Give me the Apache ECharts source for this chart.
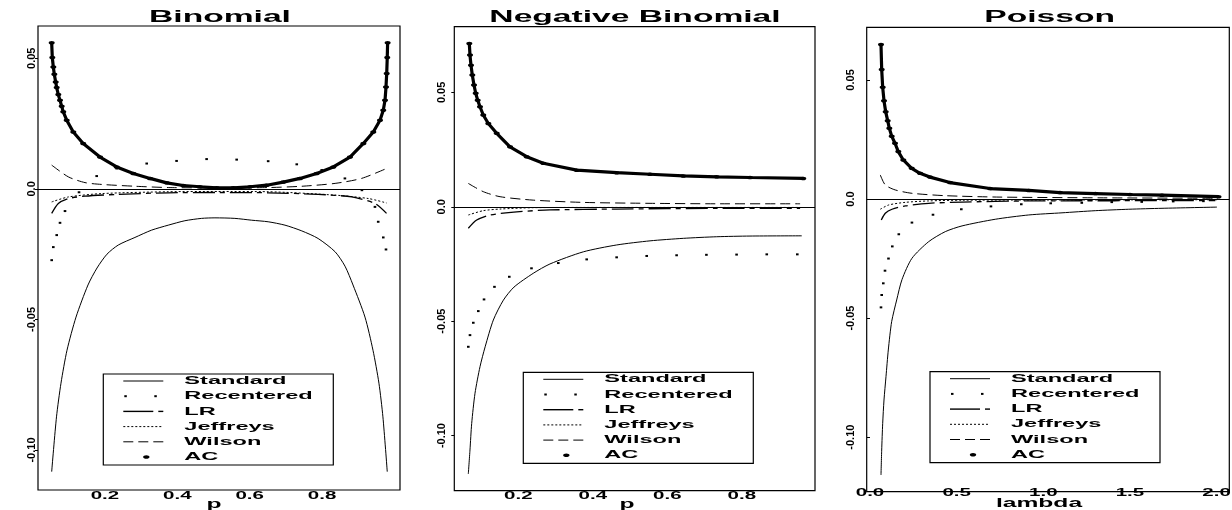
<!DOCTYPE html>
<html><head><meta charset="utf-8">
<script src="https://cdn.jsdelivr.net/npm/echarts@6/dist/echarts.min.js"></script>
<style>html,body{margin:0;padding:0;background:#fff}#c{width:1232px;height:510px}</style>
</head><body><div id="c"></div>
<script>
// ---------- DATA ----------
const titles = ['Binomial', 'Negative Binomial', 'Poisson'];
const xNames = ['p', 'p', 'lambda'];
const legendNames = ['Standard', 'Recentered', 'LR', 'Jeffreys', 'Wilson', 'AC'];
const yTicks = [-0.10, -0.05, 0, 0.05];
const binomXTicks = [0.2, 0.4, 0.6, 0.8];
const negbinXTicks = [0.2, 0.4, 0.6, 0.8];
const poisXTicks = [0.0, 0.5, 1.0, 1.5, 2.0];

// Binomial
const binomStandard = [[0.053,-0.1083],[0.0663,-0.0873],[0.0787,-0.0744],[0.0953,-0.0618],[0.1202,-0.0491],[0.1533,-0.0368],[0.1782,-0.0303],[0.2058,-0.0250],[0.237,-0.0215],[0.283,-0.0186],[0.329,-0.0158],[0.375,-0.0139],[0.421,-0.0122],[0.467,-0.0113],[0.504,-0.0111],[0.559,-0.0113],[0.6055,-0.0120],[0.651,-0.0126],[0.6975,-0.0139],[0.744,-0.0161],[0.789,-0.0190],[0.836,-0.0241],[0.8633,-0.0296],[0.8854,-0.0368],[0.9185,-0.0491],[0.9406,-0.0618],[0.957,-0.0744],[0.968,-0.0873],[0.980,-0.1083]];
const binomRecentered = [[0.053,-0.0273],[0.0575,-0.0223],[0.0669,-0.0177],[0.076,-0.0130],[0.0898,-0.0085],[0.1285,-0.0013],[0.1773,0.0049],[0.2326,0.0078],[0.3155,0.0097],[0.398,0.0107],[0.481,0.0114],[0.564,0.0112],[0.651,0.0106],[0.730,0.0094],[0.799,0.0072],[0.863,0.0040],[0.910,-0.0005],[0.946,-0.0069],[0.955,-0.0126],[0.969,-0.0186],[0.9765,-0.0232]];
const binomLR = [[0.053,-0.0094],[0.0713,-0.0056],[0.0989,-0.0037],[0.145,-0.0028],[0.237,-0.0021],[0.375,-0.0015],[0.513,-0.0014],[0.651,-0.0015],[0.789,-0.0021],[0.882,-0.0031],[0.946,-0.0056],[0.978,-0.0094]];
const binomJeffreys = [[0.053,-0.0050],[0.0989,-0.0031],[0.191,-0.0018],[0.375,-0.0011],[0.513,-0.0010],[0.651,-0.0011],[0.836,-0.0024],[0.928,-0.0037],[0.978,-0.0054]];
const binomWilson = [[0.053,0.0091],[0.0989,0.0046],[0.145,0.0024],[0.191,0.0017],[0.283,0.0010],[0.375,0.0005],[0.467,0.0004],[0.559,0.0004],[0.651,0.0005],[0.744,0.0010],[0.836,0.0021],[0.909,0.0040],[0.978,0.0078]];
const binomAC = [[0.053,0.0559],[0.0547,0.0503],[0.0575,0.0467],[0.0602,0.0439],[0.064,0.0409],[0.0668,0.0388],[0.0713,0.0361],[0.076,0.0339],[0.0807,0.0316],[0.085,0.0295],[0.0945,0.0263],[0.1127,0.0218],[0.140,0.0174],[0.1865,0.0122],[0.2326,0.0084],[0.2785,0.0059],[0.3246,0.0040],[0.3707,0.0023],[0.4166,0.0013],[0.4627,0.0008],[0.5088,0.0004],[0.5547,0.0004],[0.601,0.0008],[0.647,0.0014],[0.6928,0.0026],[0.739,0.0040],[0.785,0.0059],[0.831,0.0084],[0.877,0.0122],[0.914,0.0174],[0.9414,0.0218],[0.960,0.0263],[0.969,0.0301],[0.9738,0.0339],[0.9765,0.0390],[0.9785,0.0442],[0.980,0.0503],[0.981,0.0559]];

// Negative Binomial
const negbinStandard = [[0.0658,-0.1168],[0.0703,-0.1063],[0.0749,-0.0947],[0.0838,-0.0815],[0.0972,-0.0699],[0.111,-0.0612],[0.133,-0.0495],[0.160,-0.0408],[0.1885,-0.0351],[0.240,-0.0291],[0.285,-0.0250],[0.3745,-0.0197],[0.464,-0.0167],[0.5536,-0.0149],[0.643,-0.0138],[0.7326,-0.0131],[0.822,-0.0128],[0.961,-0.0127]];
const negbinRecentered = [[0.0658,-0.0612],[0.0703,-0.0561],[0.0792,-0.0507],[0.0926,-0.0456],[0.108,-0.0405],[0.136,-0.0350],[0.1758,-0.0306],[0.2354,-0.0269],[0.3074,-0.0246],[0.3836,-0.0230],[0.464,-0.0221],[0.5447,-0.0215],[0.625,-0.0212],[0.705,-0.0210],[0.786,-0.0209],[0.867,-0.0208],[0.949,-0.0208]];
const negbinLR = [[0.0658,-0.0094],[0.0883,-0.0058],[0.124,-0.0036],[0.1957,-0.0022],[0.285,-0.0014],[0.464,-0.0010],[0.7326,-0.0007],[0.9565,-0.0007]];
const negbinJeffreys = [[0.0658,-0.0036],[0.106,-0.0017],[0.151,-0.0010],[0.240,-0.0004],[0.3745,-0.0003],[0.9565,-0.0003]];
const negbinWilson = [[0.0658,0.0102],[0.106,0.0066],[0.151,0.0044],[0.240,0.0029],[0.3745,0.0019],[0.5536,0.0015],[0.7326,0.0013],[0.9565,0.0013]];
const negbinAC = [[0.0685,0.0714],[0.0703,0.0663],[0.073,0.0619],[0.0765,0.0576],[0.0811,0.0532],[0.0856,0.0496],[0.091,0.0466],[0.0972,0.0437],[0.106,0.0401],[0.1195,0.0364],[0.142,0.0321],[0.1777,0.0262],[0.2226,0.0219],[0.267,0.0190],[0.357,0.0160],[0.464,0.0149],[0.5536,0.0142],[0.643,0.0135],[0.7326,0.0131],[0.822,0.0128],[0.965,0.0124]];

// Poisson
const poisStandard = [[0.0635,-0.1159],[0.0675,-0.1054],[0.0733,-0.0942],[0.0808,-0.0844],[0.0923,-0.0746],[0.1056,-0.0634],[0.125,-0.0515],[0.154,-0.0424],[0.1847,-0.0338],[0.242,-0.0249],[0.3387,-0.0179],[0.4345,-0.0137],[0.531,-0.0113],[0.723,-0.0085],[0.916,-0.0067],[1.108,-0.0058],[1.300,-0.0049],[1.493,-0.0043],[1.685,-0.0039],[2.002,-0.0034]];
const poisRecentered = [[0.0635,-0.0455],[0.0675,-0.0403],[0.0767,-0.0354],[0.0866,-0.0301],[0.1067,-0.0250],[0.1287,-0.0199],[0.1662,-0.0148],[0.242,-0.0099],[0.3635,-0.0066],[0.527,-0.0043],[0.698,-0.0031],[0.873,-0.0022],[1.0427,-0.0018],[1.222,-0.0016],[1.395,-0.0013],[1.568,-0.0012],[1.7496,-0.0010],[1.924,-0.0009]];
const poisLR = [[0.0652,-0.0088],[0.0883,-0.0060],[0.127,-0.0043],[0.2037,-0.0029],[0.3387,-0.0018],[0.531,-0.0013],[0.916,-0.0008],[1.9925,-0.0007]];
const poisJeffreys = [[0.0594,-0.0043],[0.108,-0.0025],[0.2037,-0.0014],[0.3387,-0.0008],[0.531,-0.0005],[2.008,-0.0003]];
const poisWilson = [[0.0594,0.0101],[0.0883,0.0059],[0.146,0.0038],[0.242,0.0024],[0.4345,0.0014],[0.750,0.0008],[1.327,0.0005],[2.008,0.0003]];
const poisAC = [[0.0635,0.0649],[0.0675,0.0544],[0.0733,0.0469],[0.0808,0.0413],[0.0906,0.0366],[0.1021,0.0329],[0.1114,0.0297],[0.1252,0.0264],[0.1443,0.0234],[0.1633,0.0199],[0.1921,0.0164],[0.2406,0.0129],[0.2885,0.0108],[0.346,0.0092],[0.4616,0.0069],[0.6924,0.0044],[0.916,0.0036],[1.0963,0.0027],[1.300,0.0023],[1.500,0.0019],[1.685,0.0016],[2.011,0.0010]];

// ---------- LAYOUT ----------
const FONT = '"Liberation Sans", Arial, sans-serif';
const STRETCH = 2.05;
const panels = [
  {grid:{left:38, top:26, width:362, height:464}, x:[0.0152,1.0152], y:[-0.1153,0.06236],
   ticks:binomXTicks, digits:1, tickOff:6.5, yMargin:1, titleX:220, nameX:214, nameY:505, legend:[103.3,374],
   series:[binomStandard, binomRecentered, binomLR, binomJeffreys, binomWilson, binomAC]},
  {grid:{left:454.3, top:26.7, width:360.7, height:464}, x:[0.0282,0.9965], y:[-0.1241,0.0787],
   ticks:negbinXTicks, digits:1, tickOff:6, yMargin:7, titleX:635, nameX:627, nameY:505, legend:[523.3,372.3],
   series:[negbinStandard, negbinRecentered, negbinLR, negbinJeffreys, negbinWilson, negbinAC]},
  {grid:{left:866.7, top:27.3, width:362.6, height:464.4}, x:[-0.019,2.0733], y:[-0.1229,0.0721],
   ticks:poisXTicks, digits:1, tickOff:2, yMargin:10, titleX:1049.7, nameX:1039, nameY:503.5, legend:[930,371.7],
   series:[poisStandard, poisRecentered, poisLR, poisJeffreys, poisWilson, poisAC]}
];

const styles = [
  {lineStyle:{color:'#000', width:1, type:'solid'}, symbol:'none', smooth:0.25},
  {lineStyle:{width:0, opacity:0}, symbol:'rect', symbolSize:[2.6,2], itemStyle:{color:'#000'}},
  {lineStyle:{color:'#000', width:1.3, type:[22,5,5,5]}, symbol:'none', smooth:0.25},
  {lineStyle:{color:'#000', width:1, type:[2,2]}, symbol:'none', smooth:0.25},
  {lineStyle:{color:'#000', width:1, type:[10,5]}, symbol:'none', smooth:0.25},
  {lineStyle:{color:'#000', width:3.2, type:'solid'}, symbol:'circle', symbolSize:[6,3.5], itemStyle:{color:'#000'}}
];

const grids = [], xAxes = [], yAxes = [], series = [], graphics = [];
panels.forEach((P, i) => {
  grids.push(Object.assign({show:true, borderColor:'#000', borderWidth:1.2, backgroundColor:'transparent'}, P.grid));
  xAxes.push({type:'value', gridIndex:i, min:P.x[0], max:P.x[1], axisLine:{show:false}, axisTick:{show:false},
    axisLabel:{show:false}, splitLine:{show:false}});
  yAxes.push({type:'value', gridIndex:i, min:P.y[0], max:P.y[1], axisLine:{show:false},
    axisTick:{show:true, length:3, customValues:yTicks, lineStyle:{color:'#000'}},
    axisLabel:{show:true, rotate:90, customValues:yTicks, margin:P.yMargin, color:'#000', fontSize:11, fontWeight:'bold', fontFamily:FONT,
      formatter:v => (Math.abs(v) < 1e-9 ? '0.0' : v.toFixed(2))},
    splitLine:{show:false}});
  P.series.forEach((d, k) => {
    const s = Object.assign({type:'line', name:legendNames[k], xAxisIndex:i, yAxisIndex:i, data:d, silent:true,
      showSymbol: styles[k].symbol !== 'none', clip:true, z: 2 + k}, styles[k]);
    if (k === 0) {
      s.markLine = {silent:true, symbol:['none','none'], label:{show:false}, animation:false,
        lineStyle:{color:'#000', width:1, type:'solid'}, data:[{yAxis:0}]};
    }
    series.push(s);
  });
  // x tick labels placed through the axis scale
  series.push({type:'custom', xAxisIndex:i, yAxisIndex:i, silent:true, clip:false, z:10,
    data:P.ticks.map(t => [t, P.y[0]]),
    renderItem:(params, api) => {
      const pt = api.coord([api.value(0), api.value(1)]);
      return {type:'text', x:pt[0], y:pt[1] + P.tickOff, scaleX:STRETCH,
        style:{text:api.value(0).toFixed(P.digits), fill:'#000', fontSize:10, fontWeight:'bold', fontFamily:FONT,
          align:'center', verticalAlign:'middle'}};
    }});
  // title and axis name
  graphics.push({type:'text', x:P.titleX, y:18, scaleX:2.1, z:100,
    style:{text:titles[i], fill:'#000', fontSize:16, fontWeight:'bold', fontFamily:FONT, align:'center', verticalAlign:'middle'}});
  graphics.push({type:'text', x:P.nameX, y:P.nameY, scaleX:STRETCH, z:100,
    style:{text:xNames[i], fill:'#000', fontSize:12, fontWeight:'bold', fontFamily:FONT, align:'center', verticalAlign:'middle'}});
  // legend box
  const lx = P.legend[0], ly = P.legend[1];
  const rows = [7, 22.2, 37.4, 52.6, 67.8, 83];
  const ch = [];
  ch.push({type:'rect', shape:{x:lx, y:ly, width:230, height:91}, style:{fill:'#fff', stroke:'#000', lineWidth:1.2}});
  const seg = (x1, x2, y, w, dash) => ({type:'line', shape:{x1:lx + x1, y1:y, x2:lx + x2, y2:y},
    style:{stroke:'#000', lineWidth:w || 1, lineDash:dash || null}});
  rows.forEach((r, k) => {
    const y = ly + r;
    if (k === 0) ch.push(seg(20, 60, y, 1));
    if (k === 1) { ch.push({type:'rect', shape:{x:lx + 21, y:y - 1, width:2.5, height:2}, style:{fill:'#000'}});
                   ch.push({type:'rect', shape:{x:lx + 51, y:y - 1, width:2.5, height:2}, style:{fill:'#000'}}); }
    if (k === 2) { ch.push(seg(20, 50, y, 1.4)); ch.push(seg(55, 60, y, 1.4)); }
    if (k === 3) ch.push(seg(20, 60, y, 1, [2, 2]));
    if (k === 4) { ch.push(seg(20, 30, y, 1)); ch.push(seg(35, 45, y, 1)); ch.push(seg(50, 60, y, 1)); }
    if (k === 5) ch.push({type:'ellipse', shape:{cx:lx + 43, cy:y, rx:3.2, ry:1.8}, style:{fill:'#000'}});
    ch.push({type:'text', x:lx + 81, y:y, scaleX:STRETCH,
      style:{text:legendNames[k], fill:'#000', fontSize:11.5, fontWeight:'bold', fontFamily:FONT, align:'left', verticalAlign:'middle'}});
  });
  graphics.push({type:'group', z:100, children:ch});
});

const chart = echarts.init(document.getElementById('c'));
chart.setOption({
  animation:false,
  backgroundColor:'#fff',
  grid:grids, xAxis:xAxes, yAxis:yAxes, series:series,
  graphic:{elements:graphics}
});
</script>
</body></html>
